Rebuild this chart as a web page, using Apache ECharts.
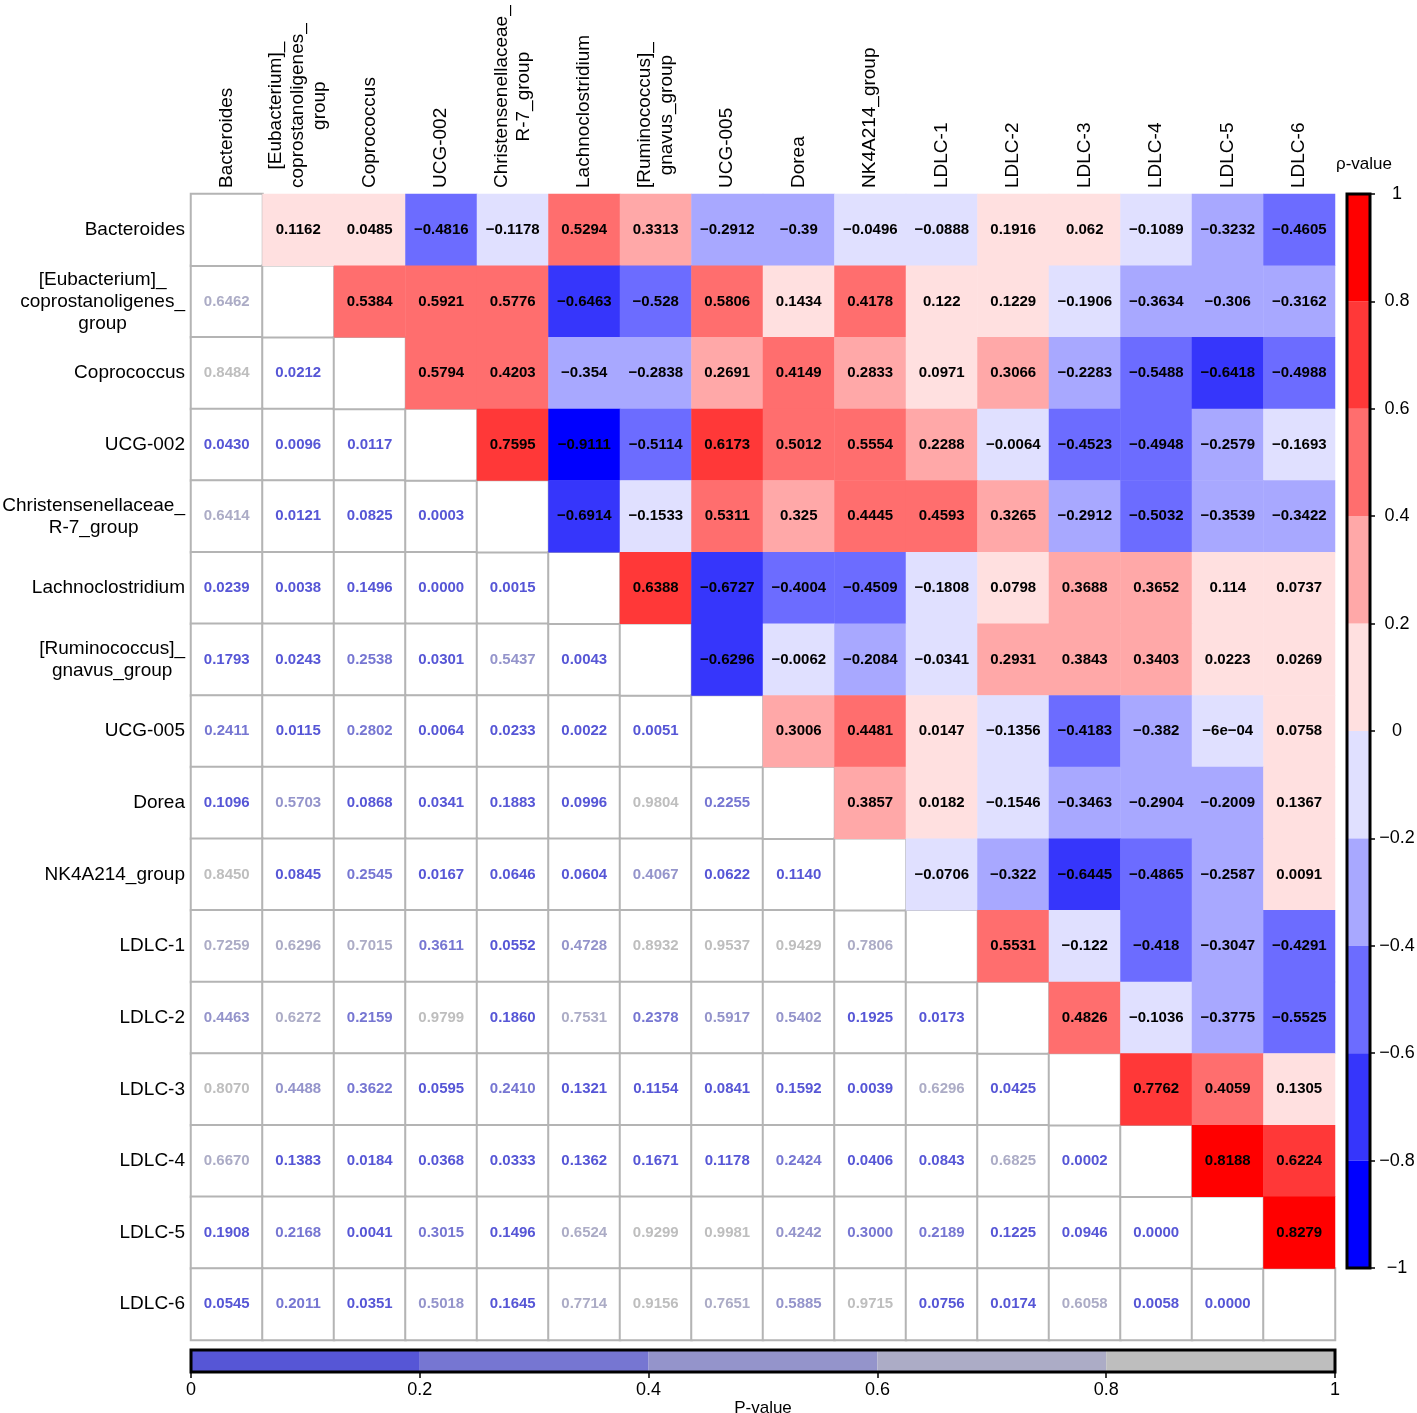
<!DOCTYPE html>
<html lang="en" style="height: 100%">
<head>
  <meta charset="utf-8">
  <title>Correlation heatmap</title>
</head>
<body style="height: 100%; margin: 0; background: #fff">
  <div id="container" style="height: 100%"></div>

  <script type="text/javascript" src="https://cdn.jsdelivr.net/npm/echarts@6/dist/echarts.min.js"></script>

  <script type="text/javascript">
    var taxa = [
      'Bacteroides', '[Eubacterium]_\ncoprostanoligenes_\ngroup', 'Coprococcus', 'UCG-002',
      'Christensenellaceae_\nR-7_group', 'Lachnoclostridium', '[Ruminococcus]_\ngnavus_group',
      'UCG-005', 'Dorea', 'NK4A214_group', 'LDLC-1', 'LDLC-2', 'LDLC-3', 'LDLC-4', 'LDLC-5', 'LDLC-6'
    ];

    // rho, upper triangle: row i holds columns i+1 .. 15
    var rhoRows = [
      [0.1162, 0.0485, -0.4816, -0.1178, 0.5294, 0.3313, -0.2912, -0.39, -0.0496, -0.0888, 0.1916, 0.062, -0.1089, -0.3232, -0.4605],
      [0.5384, 0.5921, 0.5776, -0.6463, -0.528, 0.5806, 0.1434, 0.4178, 0.122, 0.1229, -0.1906, -0.3634, -0.306, -0.3162],
      [0.5794, 0.4203, -0.354, -0.2838, 0.2691, 0.4149, 0.2833, 0.0971, 0.3066, -0.2283, -0.5488, -0.6418, -0.4988],
      [0.7595, -0.9111, -0.5114, 0.6173, 0.5012, 0.5554, 0.2288, -0.0064, -0.4523, -0.4948, -0.2579, -0.1693],
      [-0.6914, -0.1533, 0.5311, 0.325, 0.4445, 0.4593, 0.3265, -0.2912, -0.5032, -0.3539, -0.3422],
      [0.6388, -0.6727, -0.4004, -0.4509, -0.1808, 0.0798, 0.3688, 0.3652, 0.114, 0.0737],
      [-0.6296, -0.0062, -0.2084, -0.0341, 0.2931, 0.3843, 0.3403, 0.0223, 0.0269],
      [0.3006, 0.4481, 0.0147, -0.1356, -0.4183, -0.382, -0.0006, 0.0758],
      [0.3857, 0.0182, -0.1546, -0.3463, -0.2904, -0.2009, 0.1367],
      [-0.0706, -0.322, -0.6445, -0.4865, -0.2587, 0.0091],
      [0.5531, -0.122, -0.418, -0.3047, -0.4291],
      [0.4826, -0.1036, -0.3775, -0.5525],
      [0.7762, 0.4059, 0.1305],
      [0.8188, 0.6224],
      [0.8279],
      []
    ];

    // p-values, lower triangle: row i holds columns 0 .. i-1
    var pRows = [
      [],
      [0.6462],
      [0.8484, 0.0212],
      [0.0430, 0.0096, 0.0117],
      [0.6414, 0.0121, 0.0825, 0.0003],
      [0.0239, 0.0038, 0.1496, 0.0000, 0.0015],
      [0.1793, 0.0243, 0.2538, 0.0301, 0.5437, 0.0043],
      [0.2411, 0.0115, 0.2802, 0.0064, 0.0233, 0.0022, 0.0051],
      [0.1096, 0.5703, 0.0868, 0.0341, 0.1883, 0.0996, 0.9804, 0.2255],
      [0.8450, 0.0845, 0.2545, 0.0167, 0.0646, 0.0604, 0.4067, 0.0622, 0.1140],
      [0.7259, 0.6296, 0.7015, 0.3611, 0.0552, 0.4728, 0.8932, 0.9537, 0.9429, 0.7806],
      [0.4463, 0.6272, 0.2159, 0.9799, 0.1860, 0.7531, 0.2378, 0.5917, 0.5402, 0.1925, 0.0173],
      [0.8070, 0.4488, 0.3622, 0.0595, 0.2410, 0.1321, 0.1154, 0.0841, 0.1592, 0.0039, 0.6296, 0.0425],
      [0.6670, 0.1383, 0.0184, 0.0368, 0.0333, 0.1362, 0.1671, 0.1178, 0.2424, 0.0406, 0.0843, 0.6825, 0.0002],
      [0.1908, 0.2168, 0.0041, 0.3015, 0.1496, 0.6524, 0.9299, 0.9981, 0.4242, 0.3000, 0.2189, 0.1225, 0.0946, 0.0000],
      [0.0545, 0.2011, 0.0351, 0.5018, 0.1645, 0.7714, 0.9156, 0.7651, 0.5885, 0.9715, 0.0756, 0.0174, 0.6058, 0.0058, 0.0000]
    ];

    var rhoBreaks = [-1, -0.8, -0.6, -0.4, -0.2, 0, 0.2, 0.4, 0.6, 0.8, 1];
    var rhoColors = ['#0000ff', '#3636fb', '#6c6cff', '#a8a8ff', '#e0e0ff',
                     '#ffe0e0', '#ffa8a8', '#ff6e6e', '#ff3838', '#ff0000'];
    var pBreaks = [0, 0.2, 0.4, 0.6, 0.8, 1];
    var pColors = ['#5656d6', '#7676d2', '#9494cb', '#acacc6', '#bebebe'];

    var FONT = '"Liberation Sans", Arial, sans-serif';

    function pColor(p) {
      for (var k = 0; k < pColors.length; k++) {
        if (p < pBreaks[k + 1] || k === pColors.length - 1) return pColors[k];
      }
    }

    function fmtRho(v) {
      var s = String(v);
      if (v !== 0 && Math.abs(v) < 1e-3) {
        s = v.toExponential(0).replace(/e([+-])(\d)$/, 'e$10$2');
      }
      return s.replace(/-/g, '\u2212');
    }

    function fmtTick(v) {
      return String(Math.round(v * 10) / 10).replace('-', '\u2212');
    }

    var upper = [], lower = [], diag = [];
    rhoRows.forEach(function (row, i) {
      row.forEach(function (v, k) { upper.push([i + 1 + k, i, v]); });
    });
    pRows.forEach(function (row, i) {
      row.forEach(function (p, j) {
        lower.push({ value: [j, i, p], label: { color: pColor(p) } });
      });
    });
    taxa.forEach(function (t, i) { diag.push([i, i, 0]); });

    // colour bars: stacked segments outward from 0 so each bin sits at its own range
    var rhoBarSeries = [];
    var order = [5, 6, 7, 8, 9, 4, 3, 2, 1, 0];
    order.forEach(function (k) {
      var lo = rhoBreaks[k], hi = rhoBreaks[k + 1];
      rhoBarSeries.push({
        type: 'bar', xAxisIndex: 1, yAxisIndex: 1, stack: 'rho', barWidth: '100%',
        silent: true, itemStyle: { color: rhoColors[k] },
        data: [hi <= 0 ? lo - hi : hi - lo]
      });
    });
    var pBarSeries = pColors.map(function (c, k) {
      return {
        type: 'bar', xAxisIndex: 2, yAxisIndex: 2, stack: 'p', barWidth: '100%',
        silent: true, itemStyle: { color: c },
        data: [pBreaks[k + 1] - pBreaks[k]]
      };
    });

    function labelRich(value) {
      return value.split('\n').map(function (s) { return '{c|' + s + '}'; }).join('\n');
    }
    var richLabel = { c: { align: 'center', fontSize: 19, lineHeight: 22, color: '#000', fontFamily: FONT } };

    var cellLabelBase = { show: true, fontSize: 15, fontWeight: 'bold', fontFamily: FONT };

    var dom = document.getElementById('container');
    var myChart = echarts.init(dom, null, { renderer: 'canvas' });

    var option = {
      animation: false,
      backgroundColor: '#fff',
      textStyle: { fontFamily: FONT },
      title: {
        text: '\u03c1-value', left: 1331, top: 151,
        textStyle: { fontSize: 17, fontWeight: 'normal', color: '#000', fontFamily: FONT }
      },
      grid: [
        { left: 191, top: 194, width: 1144, height: 1146, outerBoundsMode: 'none', containLabel: false },
        { left: 1347, top: 194, width: 23, height: 1074, outerBoundsMode: 'none', containLabel: false,
          show: true, borderColor: '#000', borderWidth: 3, backgroundColor: 'transparent', z: 5 },
        { left: 191, top: 1350, width: 1144, height: 22, outerBoundsMode: 'none', containLabel: false,
          show: true, borderColor: '#000', borderWidth: 3, backgroundColor: 'transparent', z: 5 }
      ],
      xAxis: [
        {
          type: 'category', data: taxa, gridIndex: 0, position: 'top',
          axisLine: { show: false }, axisTick: { show: false }, splitLine: { show: false },
          axisLabel: { interval: 0, rotate: -90, margin: 6, formatter: labelRich, rich: richLabel }
        },
        { type: 'category', data: ['rho'], gridIndex: 1, show: false },
        {
          type: 'value', gridIndex: 2, min: 0, max: 1, interval: 0.2, position: 'bottom',
          axisLine: { show: false }, splitLine: { show: false },
          axisTick: { show: true, length: 6, lineStyle: { color: '#000', width: 1.5 } },
          axisLabel: { margin: 9, fontSize: 18, color: '#000' },
          name: 'P-value', nameLocation: 'middle', nameGap: 25,
          nameTextStyle: { fontSize: 17, color: '#000' }
        }
      ],
      yAxis: [
        {
          type: 'category', data: taxa, gridIndex: 0, inverse: true,
          axisLine: { show: false }, axisTick: { show: false }, splitLine: { show: false },
          axisLabel: { interval: 0, margin: 6, formatter: labelRich, rich: richLabel }
        },
        {
          type: 'value', gridIndex: 1, min: -1, max: 1, interval: 0.2, position: 'right',
          axisLine: { show: false }, splitLine: { show: false },
          axisTick: { show: true, length: 5, lineStyle: { color: '#000', width: 1.5 } },
          axisLabel: { margin: 27, align: 'center', fontSize: 18, color: '#000', formatter: fmtTick }
        },
        { type: 'category', data: ['p'], gridIndex: 2, show: false }
      ],
      visualMap: {
        type: 'piecewise', show: false, seriesIndex: 0, dimension: 2,
        pieces: rhoColors.map(function (c, k) {
          return { gte: rhoBreaks[k], lt: rhoBreaks[k + 1], color: c };
        })
      },
      series: [
        {
          name: 'rho', type: 'heatmap', xAxisIndex: 0, yAxisIndex: 0, z: 4,
          data: upper,
          label: Object.assign({ color: '#000', formatter: function (p) { return fmtRho(p.value[2]); } }, cellLabelBase),
          emphasis: { disabled: true }
        },
        {
          name: 'p', type: 'heatmap', xAxisIndex: 0, yAxisIndex: 0, z: 2,
          data: lower,
          itemStyle: { color: '#fff', borderColor: '#b4b4b4', borderWidth: 2 },
          label: Object.assign({ formatter: function (p) { return p.value[2].toFixed(4); } }, cellLabelBase),
          emphasis: { disabled: true }
        },
        {
          name: 'diag', type: 'heatmap', xAxisIndex: 0, yAxisIndex: 0, z: 2,
          data: diag,
          itemStyle: { color: '#fff', borderColor: '#b4b4b4', borderWidth: 2 },
          label: { show: false },
          emphasis: { disabled: true }
        }
      ].concat(rhoBarSeries, pBarSeries)
    };

    myChart.setOption(option);

    window.addEventListener('resize', function () {
      myChart.resize();
    });
  </script>
</body>
</html>
